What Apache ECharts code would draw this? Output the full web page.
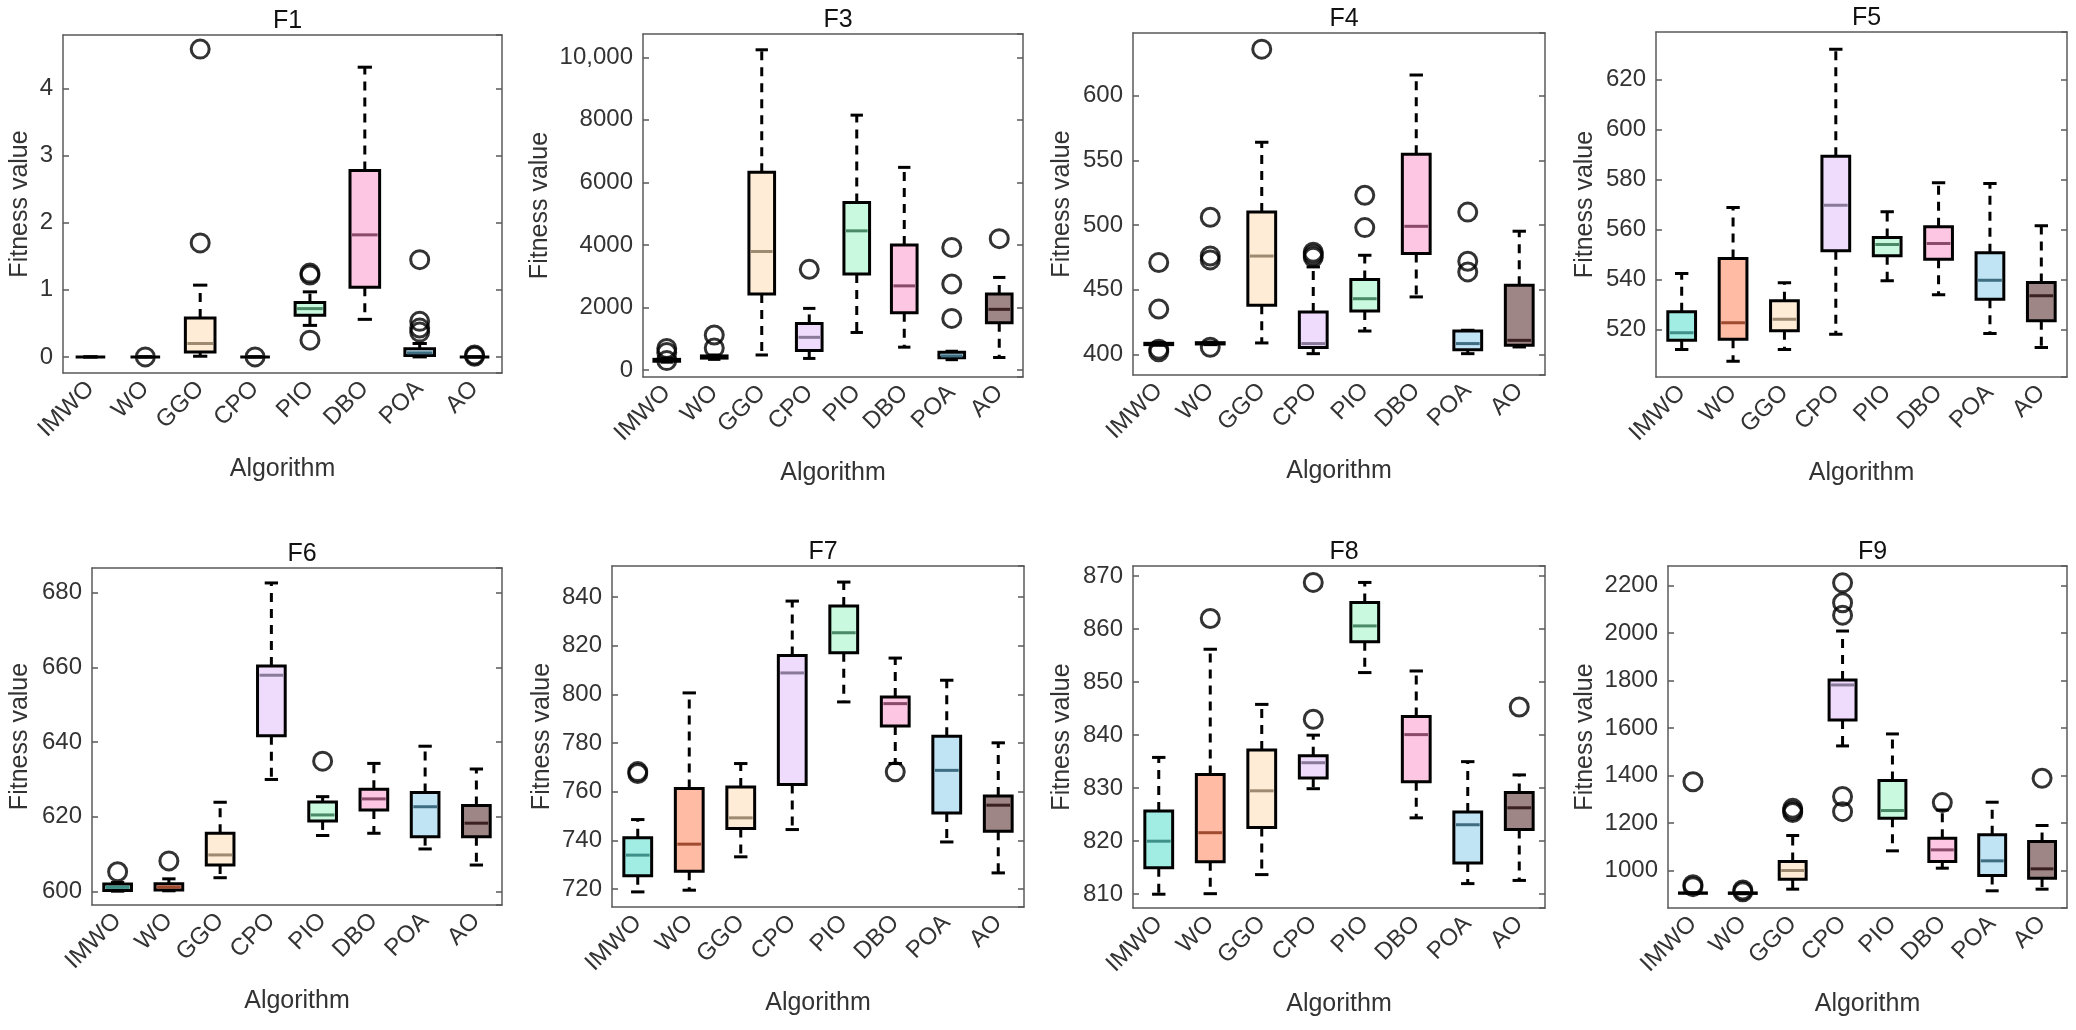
<!DOCTYPE html>
<html>
<head>
<meta charset="utf-8">
<title>Fitness value boxplots</title>
<script src="https://cdn.jsdelivr.net/npm/echarts@6/dist/echarts.min.js"></script>
<style>
  html, body { margin: 0; padding: 0; background: #fff; }
  #main { width: 2076px; height: 1030px; }
</style>
</head>
<body>
<div id="main"></div>
<script>
// categories and panel titles
var algorithms = ['IMWO', 'WO', 'GGO', 'CPO', 'PIO', 'DBO', 'POA', 'AO'];
var panelTitles = ['F1', 'F3', 'F4', 'F5', 'F6', 'F7', 'F8', 'F9'];

// box stats per algorithm: [lower whisker, Q1, median, Q3, upper whisker]
var f1Box = [[0,0,0,0,0],[0,0,0,0,0],[0.01,0.075,0.2,0.58,1.07],[0,0,0,0,0],
  [0.47,0.62,0.72,0.81,0.97],[0.56,1.04,1.82,2.78,4.32],[0,0.02,0.06,0.12,0.2],[0,0,0,0,0]];
var f3Box = [[250,280,310,340,380],[340,380,420,450,480],[480,2430,3790,6320,10240],[370,620,1045,1490,1970],
  [1200,3070,4450,5360,8150],[730,1830,2690,4000,6480],[330,390,450,570,600],[400,1510,1940,2430,2960]];
var f4Box = [[407,407.5,408,408.5,409],[407.5,408,408.5,409,409.5],[408.8,437.9,476,510,564],[400.5,405.2,408.3,432.8,467.6],
  [418,433.5,443,457.8,476.6],[444.4,477.9,499,554.8,616],[400.5,403.6,408.3,418,418.6],[405.7,407,410.8,453.4,495.2]];
var f5Box = [[512,515.7,518.7,527.1,542.4],[507.3,516.1,522.7,548.4,568.8],[512,519.5,524.1,531.5,538.7],[518.1,551.5,569.7,589.3,632.1],
  [539.5,549.5,554,556.8,567.1],[533.9,548.1,554.4,561.1,578.7],[518.4,532.1,539.7,550.7,578.4],[512.8,523.5,533.5,538.8,561.5]];
var f6Box = [[600.1,600.3,601.1,602,602.4],[600.2,600.4,601.2,602.1,603.4],[603.7,607.1,609.8,615.6,623.9],[630,641.7,657.9,660.4,682.6],
  [615,618.9,620.5,624,625.4],[615.6,621.8,624.8,627.4,634.3],[611.4,614.7,622.7,626.5,638.9],[607.1,614.7,618.3,623,632.8]];
var f7Box = [[718.9,725.5,734,741.1,748.6],[719.6,727.4,738.5,761.3,800.6],[733.3,744.9,749.3,762,771.6],[744.5,763,808.8,816,838.3],
  [796.9,817.1,825.3,836.3,846.1],[771.6,787,796.2,798.9,814.9],[739.4,751.3,768.8,782.8,805.8],[726.7,743.8,754.5,758.3,780.1]];
var f8Box = [[810,815,820,825.7,835.8],[810.1,816.1,821.6,832.6,856.2],[813.7,822.6,829.5,837.2,845.8],[829.9,831.9,834.8,836.1,840],
  [851.8,857.6,860.6,865,868.8],[824.4,831.2,840.1,843.5,852.1],[812,815.9,823.1,825.5,835],[812.6,822.2,826.3,829.2,832.5]];
var f9Box = [[903,904,904.6,905.5,906],[902,903.5,904.6,905.5,906],[921.4,963.5,1000,1037.9,1147.4],[1524.9,1634.4,1781.8,1802.8,2009],
  [1082.8,1220.4,1252.6,1379,1575.4],[1009.8,1037.9,1087,1136.1,1255],[914.4,978.9,1040.7,1150.2,1287.7],[921.4,967.7,1007,1122.1,1189.5]];

// outliers: [algorithm index, value]
var f1Out = [[1,0],[2,1.7],[2,4.59],[3,0],[4,0.25],[4,1.22],[4,1.25],[6,0.37],[6,0.43],[6,0.53],[6,1.45],[7,0.01],[7,0.03]];
var f3Out = [[0,690],[0,560],[0,300],[1,1120],[1,700],[3,3220],[6,1650],[6,2750],[6,3920],[7,4200]];
var f4Out = [[0,402],[0,404],[0,435],[0,471],[1,405.5],[1,473],[1,476],[1,506],[2,636],[3,475],[3,477],[3,479],
  [4,498],[4,523],[6,463.7],[6,472],[6,510]];
var f5Out = [];
var f6Out = [[0,605.3],[1,608.2],[4,634.9]];
var f7Out = [[0,767.5],[0,768.3],[5,768.2]];
var f8Out = [[1,862],[3,843],[3,868.8],[7,845.3]];
var f9Out = [[0,932],[0,940],[0,1374],[1,910],[1,918],[2,1244],[2,1252],[2,1262],[3,1248],[3,1312],[3,2076],[3,2128],[3,2212],
  [5,1286],[7,1388.8]];

// colours per algorithm
var fillColors = ['#a2ede3', '#ffbba3', '#feecd6', '#efdcfd', '#c9f9de', '#fdc6e3', '#c0e4f4', '#9e8686'];
var medianColors = ['#3f9088', '#a04a30', '#9e8a70', '#8a7a99', '#4a8a66', '#8a4a6a', '#3e6d82', '#3a2020'];

var boxes = [f1Box, f3Box, f4Box, f5Box, f6Box, f7Box, f8Box, f9Box];
var outliers = [f1Out, f3Out, f4Out, f5Out, f6Out, f7Out, f8Out, f9Out];

// layout of each panel
var panels = [
  { left: 63,   top: 35,  width: 439, height: 338, min: -0.24, max: 4.8,   step: 1,    gap: 30 },
  { left: 643,  top: 34,  width: 380, height: 343, min: -224,  max: 10745, step: 2000, gap: 90 },
  { left: 1133, top: 33,  width: 412, height: 342, min: 384,   max: 648.5, step: 50,   gap: 58 },
  { left: 1656, top: 32,  width: 411, height: 345, min: 501,   max: 639,   step: 20,   gap: 58 },
  { left: 92,   top: 568, width: 410, height: 337, min: 596.4, max: 686.6, step: 20,   gap: 59 },
  { left: 612,  top: 566, width: 412, height: 341, min: 712.7, max: 852.7, step: 20,   gap: 57 },
  { left: 1133, top: 566, width: 412, height: 342, min: 807.4, max: 871.9, step: 10,   gap: 58 },
  { left: 1668, top: 566, width: 399, height: 342, min: 842,   max: 2283,  step: 200,  gap: 70 }
];

var FONT = "'Liberation Sans', Arial, sans-serif";
var AXIS_COLOR = '#5a5a5a';
var TEXT_COLOR = '#333333';

var myChart = echarts.init(document.getElementById('main'), null, { renderer: 'canvas' });

function renderBox(params, api) {
    var idx = api.value(0);
    var x = api.coord([idx, 0])[0];
    var band = api.size([1, 0])[0];
    var half = band * 0.27;
    var cap = band * 0.13;
    var yLow = api.coord([idx, api.value(1)])[1];
    var yQ1 = api.coord([idx, api.value(2)])[1];
    var yMed = api.coord([idx, api.value(3)])[1];
    var yQ3 = api.coord([idx, api.value(4)])[1];
    var yHigh = api.coord([idx, api.value(5)])[1];
    var lw = 3;
    var parts = [
        { type: 'line', shape: { x1: x, y1: yQ3, x2: x, y2: yHigh },
          style: { stroke: '#000', lineWidth: lw, lineDash: [9, 7] } },
        { type: 'line', shape: { x1: x, y1: yQ1, x2: x, y2: yLow },
          style: { stroke: '#000', lineWidth: lw, lineDash: [9, 7] } },
        { type: 'line', shape: { x1: x - cap, y1: yHigh, x2: x + cap, y2: yHigh },
          style: { stroke: '#000', lineWidth: lw } },
        { type: 'line', shape: { x1: x - cap, y1: yLow, x2: x + cap, y2: yLow },
          style: { stroke: '#000', lineWidth: lw } },
        { type: 'rect', shape: { x: x - half, y: yQ3, width: half * 2, height: yQ1 - yQ3 },
          style: { fill: fillColors[idx], stroke: '#000', lineWidth: lw } }
    ];
    // collapsed boxes show only the black outline, like the original
    if (yQ1 - yQ3 > 4) {
        parts.push({ type: 'line', shape: { x1: x - half + 2, y1: yMed, x2: x + half - 2, y2: yMed },
                     style: { stroke: medianColors[idx], lineWidth: 3 } });
    }
    return { type: 'group', children: parts };
}

function tickLabel(v) {
    if (v >= 10000) return v.toLocaleString('en-US');
    return String(v);
}

var option = {
    backgroundColor: '#ffffff',
    animation: false,
    title: [],
    grid: [],
    xAxis: [],
    yAxis: [],
    series: []
};

panels.forEach(function (p, k) {
    option.title.push({
        text: panelTitles[k],
        left: p.left + p.width / 2,
        top: p.top - 31,
        textAlign: 'center',
        textStyle: { fontFamily: FONT, fontSize: 25, fontWeight: 'normal', color: '#111' }
    });
    option.grid.push({ left: p.left, top: p.top, width: p.width, height: p.height, containLabel: false });

    // bottom and top category axes
    option.xAxis.push({
        type: 'category', gridIndex: k, data: algorithms, boundaryGap: true,
        name: 'Algorithm', nameLocation: 'middle', nameGap: 84,
        nameTextStyle: { fontFamily: FONT, fontSize: 25, color: TEXT_COLOR },
        axisLine: { onZero: false, lineStyle: { color: AXIS_COLOR, width: 1.5 } },
        axisTick: { inside: true, alignWithLabel: true, length: 6, lineStyle: { color: AXIS_COLOR, width: 1.5 } },
        axisLabel: { rotate: 45, margin: 12, fontFamily: FONT, fontSize: 24, color: TEXT_COLOR, interval: 0 },
        splitLine: { show: false }
    });
    option.xAxis.push({
        type: 'category', gridIndex: k, data: algorithms, boundaryGap: true, position: 'top',
        axisLine: { onZero: false, lineStyle: { color: AXIS_COLOR, width: 1.5 } },
        axisTick: { inside: true, alignWithLabel: true, length: 6, lineStyle: { color: AXIS_COLOR, width: 1.5 } },
        axisLabel: { show: false },
        splitLine: { show: false }
    });

    // left and right value axes
    option.yAxis.push({
        type: 'value', gridIndex: k, min: p.min, max: p.max,
        minInterval: p.step, maxInterval: p.step, splitNumber: 6,
        name: 'Fitness value', nameLocation: 'middle', nameGap: p.gap, nameRotate: 90,
        nameTextStyle: { fontFamily: FONT, fontSize: 25, color: TEXT_COLOR },
        axisLine: { show: true, lineStyle: { color: AXIS_COLOR, width: 1.5 } },
        axisTick: { show: true, inside: true, length: 6, lineStyle: { color: AXIS_COLOR, width: 1.5 } },
        axisLabel: { fontFamily: FONT, fontSize: 24, color: TEXT_COLOR, margin: 10,
                     showMinLabel: false, showMaxLabel: false, formatter: tickLabel },
        splitLine: { show: false }
    });
    option.yAxis.push({
        type: 'value', gridIndex: k, min: p.min, max: p.max, position: 'right',
        minInterval: p.step, maxInterval: p.step, splitNumber: 6,
        axisLine: { show: true, lineStyle: { color: AXIS_COLOR, width: 1.5 } },
        axisTick: { show: true, inside: true, length: 6, lineStyle: { color: AXIS_COLOR, width: 1.5 } },
        axisLabel: { show: false },
        splitLine: { show: false }
    });

    option.series.push({
        type: 'custom',
        xAxisIndex: 2 * k,
        yAxisIndex: 2 * k,
        renderItem: renderBox,
        encode: { x: 0, y: [1, 2, 3, 4, 5] },
        data: boxes[k].map(function (b, i) { return [i].concat(b); }),
        z: 2
    });
    option.series.push({
        type: 'scatter',
        xAxisIndex: 2 * k,
        yAxisIndex: 2 * k,
        symbol: 'circle',
        symbolSize: 18,
        itemStyle: { color: 'rgba(0,0,0,0)', borderColor: '#000', borderWidth: 3 },
        data: outliers[k],
        z: 3
    });
});

myChart.setOption(option);
window.addEventListener('resize', function () {
    myChart.resize();
});
</script>
</body>
</html>
